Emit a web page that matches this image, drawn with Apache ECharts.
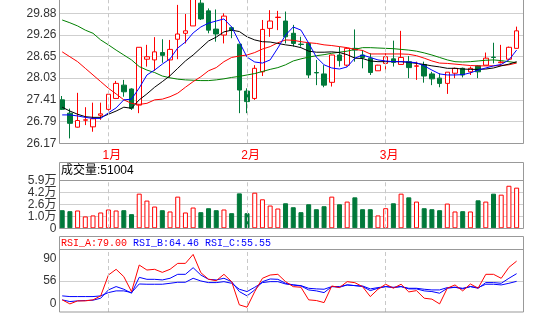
<!DOCTYPE html>
<html><head><meta charset="utf-8">
<script src="https://cdn.jsdelivr.net/npm/echarts@6/dist/echarts.min.js"></script>
<style>html,body{margin:0;padding:0;background:#fff}#c{width:546px;height:322px}</style>
</head><body><div id="c"></div><script>
const categories = ['2012-12-21','2012-12-24','2012-12-25','2012-12-26','2012-12-27','2012-12-28',
'2013-01-04','2013-01-07','2013-01-08','2013-01-09','2013-01-10','2013-01-11','2013-01-14','2013-01-15','2013-01-16','2013-01-17','2013-01-18','2013-01-21','2013-01-22','2013-01-23','2013-01-24','2013-01-25','2013-01-28','2013-01-29',
'2013-02-01','2013-02-04','2013-02-05','2013-02-06','2013-02-07','2013-02-08','2013-02-11','2013-02-12','2013-02-13','2013-02-14','2013-02-15','2013-02-18','2013-02-19','2013-02-20','2013-02-21','2013-02-22','2013-02-25','2013-02-26',
'2013-03-01','2013-03-04','2013-03-05','2013-03-06','2013-03-07','2013-03-08','2013-03-11','2013-03-12','2013-03-13','2013-03-14','2013-03-15','2013-03-18','2013-03-19','2013-03-20','2013-03-21','2013-03-22','2013-03-25','2013-03-26'];
// [open, close, low, high]
const candles = [
[27.41,27.14,27.12,27.52],[27.03,26.74,26.31,27.16],[26.63,26.82,26.62,27.61],[26.83,26.84,26.69,27.20],[26.64,26.87,26.50,27.33],
[26.97,27.01,26.84,27.33],[27.14,27.57,27.10,27.58],[27.45,27.88,27.45,27.95],[27.83,27.64,27.50,27.98],[27.72,27.17,27.12,27.74],
[27.26,28.91,27.03,28.91],[28.57,28.64,28.36,28.98],[28.55,28.78,28.24,29.20],[28.76,28.68,28.47,29.14],[28.55,28.85,28.05,29.12],
[29.14,29.29,28.57,30.12],[29.31,29.38,29.02,29.86],[29.52,30.35,29.52,30.45],[30.17,29.72,29.69,30.30],[29.95,29.40,29.31,30.02],
[29.43,29.29,29.07,29.99],[29.26,29.80,29.02,29.88],[29.47,29.40,29.17,29.50],[29.00,27.69,27.03,29.00],[27.66,27.36,27.03,27.74],
[27.45,28.31,27.41,28.40],[28.21,29.42,28.09,29.69],[29.45,29.66,29.21,29.97],[29.76,29.77,29.40,29.95],[29.66,29.21,29.02,29.93],
[29.31,29.02,28.93,29.55],[29.00,28.99,28.93,29.21],[29.02,28.12,28.03,29.05],[28.19,28.18,27.83,28.55],[28.15,27.83,27.77,28.40],
[27.91,28.69,27.79,28.70],[28.69,28.53,28.36,28.93],[28.40,28.88,28.36,28.90],[28.88,28.83,28.50,29.42],[28.69,28.62,28.31,28.83],
[28.60,28.19,28.12,28.74],[28.24,28.40,28.24,28.41],[28.45,28.64,28.26,28.74],[28.58,28.48,28.36,29.10],[28.42,28.62,28.42,29.38],
[28.50,28.33,28.03,28.66],[28.37,28.38,27.98,28.50],[28.42,28.09,27.90,28.50],[28.15,28.01,27.83,28.21],[28.03,27.88,27.77,28.17],
[27.88,28.20,27.58,28.20],[28.17,28.31,28.03,28.33],[28.31,28.12,28.05,28.33],[28.21,28.31,28.12,28.36],[28.38,28.21,28.03,28.40],
[28.40,28.60,28.40,28.76],[28.63,28.62,28.45,29.04],[28.47,28.49,28.45,28.98],[28.57,28.91,28.54,28.93],[28.88,29.38,28.88,29.50]];
const ma5 = [26.98,26.98,26.95,26.91,26.88,26.88,27.04,27.18,27.41,27.43,27.75,28.12,28.26,28.43,28.58,28.89,29.06,29.32,29.49,29.60,29.66,29.72,29.49,29.06,28.63,28.49,28.46,28.55,28.89,29.26,29.49,29.40,29.03,28.63,28.41,28.32,28.29,28.35,28.60,28.69,28.62,28.55,28.52,28.50,28.50,28.49,28.47,28.38,28.26,28.15,28.12,28.12,28.13,28.18,28.26,28.32,28.38,28.42,28.55,28.83];
const ma10 = [27.20,27.09,27.00,26.93,26.91,26.91,27.00,27.09,27.20,27.17,27.41,27.58,27.77,27.93,28.10,28.31,28.52,28.69,28.89,29.09,29.20,29.35,29.40,29.36,29.21,29.12,29.07,29.06,29.02,28.98,28.95,28.90,28.80,28.77,28.77,28.78,28.76,28.70,28.60,28.59,28.52,28.50,28.50,28.50,28.50,28.48,28.45,28.42,28.38,28.35,28.31,28.31,28.29,28.28,28.28,28.29,28.32,28.38,28.43,28.50];
const ma20 = [28.78,28.64,28.50,28.31,28.12,27.93,27.74,27.58,27.41,27.31,27.28,27.31,27.41,27.43,27.50,27.60,27.77,27.93,28.07,28.24,28.33,28.50,28.62,28.66,28.69,28.76,28.86,28.93,29.04,29.12,29.11,29.07,29.04,29.02,28.98,28.96,28.93,28.90,28.85,28.82,28.72,28.72,28.72,28.72,28.72,28.71,28.67,28.60,28.52,28.46,28.45,28.43,28.41,28.39,28.38,28.38,28.38,28.39,28.41,28.46];
const ma60 = [29.69,29.61,29.52,29.40,29.31,29.12,28.98,28.83,28.69,28.55,28.36,28.26,28.19,28.09,28.04,28.00,27.98,27.97,27.96,27.96,27.98,28.01,28.05,28.08,28.12,28.16,28.22,28.28,28.33,28.41,28.52,28.58,28.63,28.67,28.70,28.74,28.77,28.80,28.85,28.90,28.90,28.89,28.88,28.87,28.85,28.83,28.80,28.75,28.69,28.62,28.55,28.50,28.49,28.50,28.52,28.54,28.55,28.53,28.50,28.47];
const volumes = [22730,21490,22360,14900,16150,19870,23600,22360,22730,17760,43470,34780,27320,22730,21110,39740,19870,26080,20240,25210,22730,23600,19000,43840,19000,44710,36390,28570,24840,31420,26450,20240,30180,23970,27700,39740,30180,33530,38870,23970,23970,16150,25210,31420,43470,38870,33530,25210,23970,22730,31050,21110,21490,21110,35150,33530,43470,42230,53410,51004];
const rsiA = [34.1,29.4,32.9,32.9,34.1,38.7,62.9,69.5,61.0,43.6,74.5,68.7,69.5,66.0,69.5,76.4,76.4,86.8,65.6,58.0,56.3,63.7,55.2,28.3,25.6,43.6,59.1,62.9,63.7,55.2,49.4,48.7,34.1,33.3,30.9,50.2,48.3,55.2,54.0,49.4,37.9,46.4,52.2,47.6,52.2,43.3,44.8,36.0,34.9,29.4,47.6,51.4,44.5,52.5,47.6,63.7,63.7,59.1,71.8,79.00];
const rsiB = [34.1,32.1,32.9,33.3,33.7,36.0,45.6,49.5,46.4,41.8,60.2,57.9,57.9,57.2,59.1,63.7,63.7,71.4,62.9,57.9,57.2,59.1,55.2,43.7,38.7,45.6,55.2,58.3,57.9,53.3,51.4,50.2,45.6,44.5,42.5,49.5,48.7,51.4,50.6,49.5,44.8,47.5,49.5,48.3,49.5,46.8,46.8,44.5,43.7,41.8,47.5,48.7,46.8,49.5,47.5,54.1,54.1,53.3,59.1,64.46];
const rsiC = [38.7,37.9,37.9,37.9,37.9,38.7,42.5,44.5,44.5,42.5,52.5,52.2,52.2,52.2,53.3,54.5,54.5,59.1,56.0,54.1,54.1,55.2,53.3,46.4,43.7,48.7,54.1,55.2,55.2,52.5,51.4,50.6,47.5,46.8,46.4,49.5,49.5,51.4,50.6,50.2,46.8,48.3,49.5,48.7,49.5,47.5,47.5,46.4,45.6,45.6,48.3,48.7,47.5,49.5,48.3,52.2,52.2,51.4,53.3,55.55];
const priceTicks = [26.17,26.79,27.41,28.03,28.65,29.26,29.88];
const volTickLabels = ['0','1.0万','2.6万','4.2万','5.9万'];
const rsiTickLabels = ['0','56','90'];

const UP = '#ff0000', DOWN = '#00793a', GRIDC = '#cfcfcf', FRAME = '#999999';
const SANS = 'Liberation Sans, Arial, Noto Sans CJK SC, sans-serif';
const monthIdx = categories.map((d,i)=>i).filter(i => i>0 && categories[i].slice(5,7)!==categories[i-1].slice(5,7));
const monthText = monthIdx.map(i => parseInt(categories[i].slice(5,7),10)+'月');
const N = categories.length;
const XMIN = -0.3506, XMAX = 59.894;
const L = 59.5, W = 464;
const monthLines = {silent:true, symbol:['none','none'], label:{show:false}, animation:false,
  lineStyle:{color:'#c8c8c8', type:[4,3], width:1}, emphasis:{disabled:true},
  data: monthIdx.map(i => ({xAxis:i}))};
function xAx(gi, labels){
  return {type:'value', gridIndex:gi, min:XMIN, max:XMAX, splitLine:{show:false}, axisLine:{show:false}, axisTick:{show:false},
    axisLabel: labels ? {show:true, customValues: monthIdx, color:UP, fontSize:12, fontFamily:SANS, margin:6, padding:[0,0,0,7],
      formatter:(v)=>monthText[monthIdx.indexOf(Math.round(v))]} : {show:false}};
}
const pairs = arr => arr.map((v,i)=>[i,v]);
const volData = volumes.map((v,i)=>{
  const up = candles[i][1] >= candles[i][0];
  return {value:[i,v], itemStyle: up ? {color:'#ffffff', borderColor:UP, borderWidth:1} : {color:DOWN, borderColor:DOWN, borderWidth:1}};
});
const line = (data, color, xi, yi, extra) => Object.assign({type:'line', data:pairs(data), xAxisIndex:xi, yAxisIndex:yi, showSymbol:false, symbol:'none',
  lineStyle:{color:color, width:1}, itemStyle:{color:color}, animation:false, silent:true, clip:true}, extra||{});

const chart = echarts.init(document.getElementById('c'), null, {renderer:'canvas'});
chart.setOption({
  animation:false,
  textStyle:{fontFamily:SANS},
  grid:[
    {left:L, width:W, top:0, height:143.3},
    {left:L, width:W, top:180.5, height:47.8},
    {left:L, width:W, top:249.5, height:62.5}
  ],
  xAxis:[xAx(0,true), xAx(1,false), xAx(2,false)],
  yAxis:[
    {type:'value', gridIndex:0, min:26.17, max:30.26, axisLine:{show:false},
      axisTick:{show:false, customValues:priceTicks},
      splitLine:{show:true, lineStyle:{color:GRIDC, width:1}},
      axisLabel:{customValues:priceTicks, color:'#333', fontSize:12, fontFamily:SANS, margin:3, formatter:v=>v.toFixed(2)}},
    {type:'value', gridIndex:1, min:0, max:60000, axisLine:{show:false},
      axisTick:{show:false, customValues:[15000,30000,45000]},
      splitLine:{show:true, lineStyle:{color:GRIDC, width:1}},
      axisLabel:{customValues:[0,15000,30000,45000,60000], color:'#333', fontSize:12, fontFamily:SANS, margin:3,
        formatter:(v)=>volTickLabels[Math.round(v/15000)]}},
    {type:'value', gridIndex:2, min:20, max:92.5, axisLine:{show:false},
      axisTick:{show:false, customValues:[56]},
      splitLine:{show:true, lineStyle:{color:GRIDC, width:1}},
      axisLabel:{customValues:[30,56,82], color:'#333', fontSize:12, fontFamily:SANS, margin:3,
        formatter:(v)=>rsiTickLabels[[30,56,82].indexOf(Math.round(v))]}}
  ],
  series:[
    {type:'candlestick', xAxisIndex:0, yAxisIndex:0, barWidth:5, animation:false, silent:true,
      data: candles.map((c,i)=>[i, c[0], c[1], c[2], c[3]]),
      itemStyle:{color:'#ffffff', color0:DOWN, borderColor:UP, borderColor0:DOWN, borderWidth:1},
      markLine: monthLines},
    line(ma60, '#008000', 0, 0),
    line(ma20, '#ff0000', 0, 0),
    line(ma10, '#000000', 0, 0),
    line(ma5, '#0000ff', 0, 0),
    {type:'bar', xAxisIndex:1, yAxisIndex:1, barWidth:5, data:volData, animation:false, silent:true, markLine: monthLines},
    line(rsiC, '#0000ff', 2, 2),
    line(rsiB, '#0000ff', 2, 2),
    line(rsiA, '#ff0000', 2, 2, {markLine: monthLines})
  ],
  graphic:[
    {type:'polyline', silent:true, z:100, shape:{points:[[59.5,0],[59.5,143.5],[523.5,143.5],[523.5,0]]}, style:{fill:null, stroke:FRAME, lineWidth:1}},
    {type:'rect', silent:true, z:100, shape:{x:59.5, y:162.5, width:464, height:66}, style:{fill:null, stroke:FRAME, lineWidth:1}},
    {type:'line', silent:true, z:100, shape:{x1:59.5, y1:180.5, x2:523.5, y2:180.5}, style:{stroke:FRAME, lineWidth:1}},
    {type:'rect', silent:true, z:100, shape:{x:59.5, y:236.5, width:464, height:75.5}, style:{fill:null, stroke:FRAME, lineWidth:1}},
    {type:'line', silent:true, z:100, shape:{x1:59.5, y1:249.5, x2:523.5, y2:249.5}, style:{stroke:FRAME, lineWidth:1}},
    {type:'text', silent:true, z:101, x:61, y:171, style:{text:'成交量:'+volumes[N-1], fill:'#000', font:'12px Liberation Sans, Noto Sans CJK SC, sans-serif', textVerticalAlign:'middle'}},
    {type:'text', silent:true, z:101, x:61, y:243, style:{
      text:'{a|RSI_A:'+rsiA[N-1].toFixed(2)+' }{b|RSI_B:'+rsiB[N-1].toFixed(2)+' }{b|RSI_C:'+rsiC[N-1].toFixed(2)+'}',
      textVerticalAlign:'middle',
      rich:{a:{fill:'#ff0000', font:'10px Liberation Mono, DejaVu Sans Mono, monospace'}, b:{fill:'#0000ff', font:'10px Liberation Mono, DejaVu Sans Mono, monospace'}}}}
  ]
});
</script></body></html>
